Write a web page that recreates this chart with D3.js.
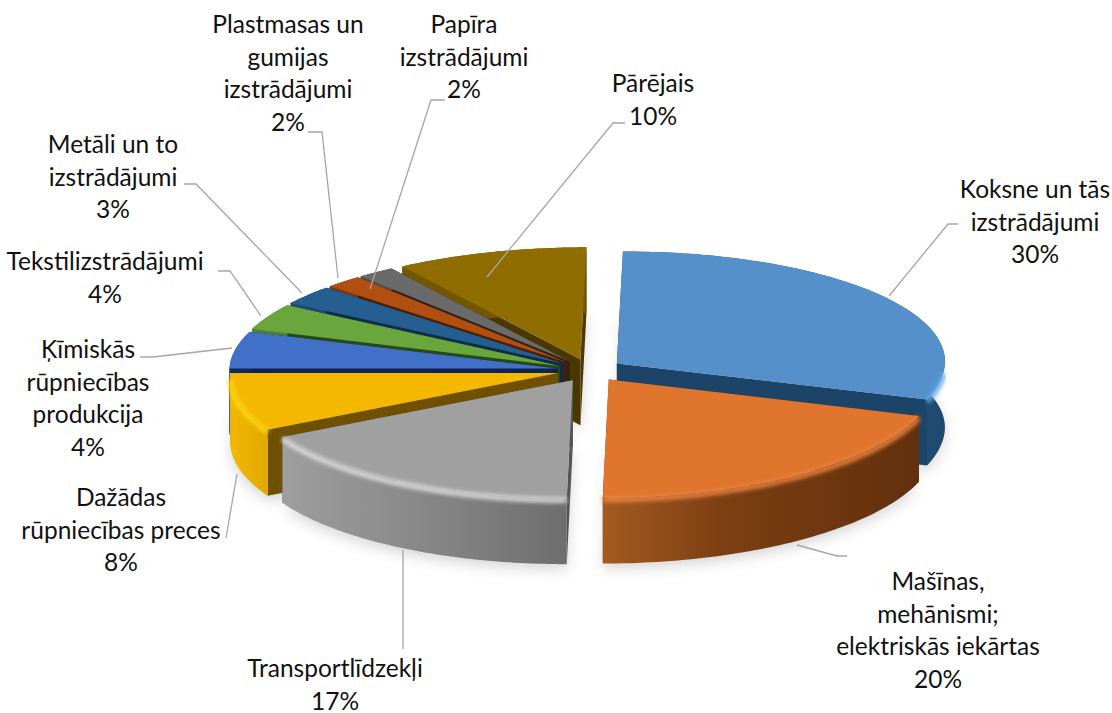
<!DOCTYPE html>
<html>
<head>
<meta charset="utf-8">
<script src="https://cdn.jsdelivr.net/npm/d3@7"></script>
<style>
  html, body { margin: 0; background: #fff; }
  text { font-family: Lato, "Open Sans", sans-serif; font-size: 24.5px; fill: #111; text-anchor: middle; dominant-baseline: central; }
</style>
</head>
<body>
<svg id="chart" width="1112" height="713"></svg>
<script>
// the data, clockwise from 12 o'clock
const categories = [
    ["Koksne un tās", "izstrādājumi"],
    ["Mašīnas,", "mehānismi;", "elektriskās iekārtas"],
    ["Transportlīdzekļi"],
    ["Dažādas", "rūpniecības preces"],
    ["Ķīmiskās", "rūpniecības", "produkcija"],
    ["Tekstilizstrādājumi"],
    ["Metāli un to", "izstrādājumi"],
    ["Plastmasas un", "gumijas", "izstrādājumi"],
    ["Papīra", "izstrādājumi"],
    ["Pārējais"]
];
const shares = [30, 20, 17, 8, 4, 4, 3, 2, 2, 10];

// colours: top face, cut face, outer wall left / middle / right, rim highlight
const topColors = ["#5590cb", "#e0752d", "#a0a0a0", "#f5b800", "#4070c8", "#6aa63e", "#255e91", "#b04f10", "#6a6a6a", "#8f6d00"];
const cutColors = ["#1c4468", "#6b3510", "#555555", "#6e5000", "#0e2350", "#274a14", "#0f2d4a", "#4a2005", "#302418", "#4a3800"];
const wallLeft = ["#2a5f8f", "#a45a20", "#9e9e9e", "#f2b700", "#12295e", "#4f7f2f", "#1d4a73", "#7a380b", "#4f4f4f", "#735600"];
const wallMid = ["#265680", "#7a3e12", "#8c8c8c", "#ecb200", "#12295e", "#4f7f2f", "#1d4a73", "#7a380b", "#4f4f4f", "#735600"];
const wallRight = ["#1f4a70", "#62300c", "#6e6e6e", "#e0a800", "#12295e", "#4f7f2f", "#1d4a73", "#7a380b", "#4f4f4f", "#735600"];
const rimColors = ["#62a8e8", "#ee8440", "#dedede", "#ffd814", "#5a8ae0", "#82c055", "#3a78b0", "#c86a20", "#8a8a8a", "#a88510"];

// label placement: centre x, first line y, leader line (rim -> elbow -> label)
const labelX = [1035, 938, 335, 121, 88, 105, 113, 288, 464, 653];
const labelY = [188, 580, 667, 496, 348, 260, 143, 23, 23, 82];
const leaders = [
    [[889, 296], [948, 224], [958, 224]],
    [[797, 545], [837, 556], [847, 556]],
    [[403, 550], [403, 649]],
    [[237, 474], [226, 538]],
    [[232, 348], [153, 357], [140, 357]],
    [[261, 316], [230, 271], [218, 271]],
    [[302, 293], [196, 184], [184, 184]],
    [[338, 278], [322, 132], [308, 132]],
    [[370, 289], [431, 100], [445, 100]],
    [[487, 277], [613, 123], [625, 123]]
];

const lineHeight = 32.5;
const depth = 66;
const explode = 0.1;
const shear = 6;
const drawOrder = [9, 8, 7, 6, 5, 4, 3, 0, 1, 2];

const svg = d3.select("#chart");
const defs = svg.append("defs");

defs.append("filter").attr("id", "shadowBlur")
    .attr("x", "-10%").attr("y", "-10%").attr("width", "120%").attr("height", "130%")
    .append("feGaussianBlur").attr("stdDeviation", 7);
defs.append("filter").attr("id", "rimBlur")
    .attr("x", "-10%").attr("y", "-40%").attr("width", "120%").attr("height", "180%")
    .append("feGaussianBlur").attr("stdDeviation", 2);

// ground plane -> screen
const xScale = d3.scaleLinear().domain([-1, 1]).range([262, 918]);
const yScale = d3.scaleLinear().domain([-1, 0, 1]).range([488, 370, 258]);

// the 3D view stretches the thin back-left slices a little, this mimics it
const rad = Math.PI / 180;
const viewAngle = d3.scaleLinear()
    .domain([0, 270, 285, 325, 360].map(a => a * rad))
    .range([0, 270, 290, 327, 360].map(a => a * rad));

const arcs = d3.pie().sort(null).value(d => d)(shares);
const line = d3.line();

// point on a slice: angle, radius (unit disc), height offset
function project(d, angle, r, z) {
    const mid = (d.startAngle + d.endAngle) / 2;
    const a = viewAngle(angle);
    const u = Math.sin(a) * r + explode * Math.sin(mid);
    const v = Math.cos(a) * r + explode * Math.cos(mid);
    return [xScale(u) + shear * v, yScale(v) + z];
}

function rimPoints(d, z) {
    return d3.range(0, 61).map(i => {
        const a = d.startAngle + (d.endAngle - d.startAngle) * i / 60;
        return project(d, a, 1, z);
    });
}

// only the part of the rim that faces the viewer catches the light
function frontRim(d, z) {
    const from = Math.max(d.startAngle, 94 * rad);
    const to = Math.min(d.endAngle, 268 * rad);
    if (from >= to) return null;
    return d3.range(0, 41).map(i => project(d, from + (to - from) * i / 40, 1, z));
}

function topPath(d, z) {
    return line([project(d, 0, 0, z), ...rimPoints(d, z)]) + "Z";
}

function cutPath(d, angle) {
    return line([
        project(d, 0, 0, 0), project(d, angle, 1, 0),
        project(d, angle, 1, depth), project(d, 0, 0, depth)
    ]) + "Z";
}

function wallPath(d) {
    return line([...rimPoints(d, 0), ...rimPoints(d, depth).reverse()]) + "Z";
}

// soft shadow under the pie
svg.append("g")
    .attr("filter", "url(#shadowBlur)")
    .attr("opacity", 0.24)
    .selectAll("path")
    .data(arcs)
    .join("path")
    .attr("d", d => topPath(d, depth + 5))
    .attr("fill", "#555");

// one gradient per wall, runs across its screen width
arcs.forEach((d, i) => {
    const xs = d3.extent(rimPoints(d, 0), p => p[0]);
    const g = defs.append("linearGradient").attr("id", "wall" + i)
        .attr("gradientUnits", "userSpaceOnUse")
        .attr("x1", xs[0]).attr("x2", xs[1]).attr("y1", 0).attr("y2", 0);
    g.append("stop").attr("offset", 0).attr("stop-color", wallLeft[i]);
    g.append("stop").attr("offset", 0.4).attr("stop-color", wallMid[i]);
    g.append("stop").attr("offset", 1).attr("stop-color", wallRight[i]);
});

// painter's order, back slices first
const slices = svg.append("g")
    .selectAll("g")
    .data(drawOrder)
    .join("g");

slices.each(function(i) {
    const d = arcs[i];
    const g = d3.select(this);

    g.append("path").attr("d", cutPath(d, d.startAngle)).attr("fill", cutColors[i]);
    g.append("path").attr("d", cutPath(d, d.endAngle)).attr("fill", cutColors[i]);
    g.append("path").attr("d", wallPath(d)).attr("fill", `url(#wall${i})`);
    g.append("path").attr("d", topPath(d, 0)).attr("fill", topColors[i]);

    // rim highlight where the top rolls over into the wall
    const rim = frontRim(d, 2);
    if (rim) {
        g.append("path")
            .attr("d", line(rim))
            .attr("fill", "none")
            .attr("stroke", rimColors[i])
            .attr("stroke-width", 5)
            .attr("filter", "url(#rimBlur)");
    }
});

// leader lines
svg.append("g")
    .selectAll("path")
    .data(leaders)
    .join("path")
    .attr("d", d => line(d))
    .attr("fill", "none")
    .attr("stroke", "#a6a6a6")
    .attr("stroke-width", 1.3);

// labels: category lines plus the percentage
const labels = svg.append("g")
    .selectAll("text")
    .data(categories)
    .join("text")
    .attr("x", (d, i) => labelX[i])
    .attr("y", (d, i) => labelY[i]);

labels.selectAll("tspan")
    .data((d, i) => [...d, d3.format(".0f")(shares[i]) + "%"])
    .join("tspan")
    .attr("x", function() { return this.parentNode.getAttribute("x"); })
    .attr("dy", (d, i) => i === 0 ? 0 : lineHeight)
    .text(d => d);
</script>
</body>
</html>
